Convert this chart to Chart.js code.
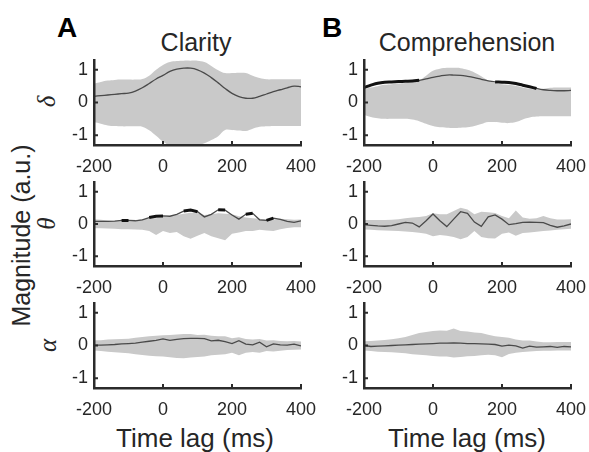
<!DOCTYPE html>
<html>
<head>
<meta charset="utf-8">
<script src="https://cdn.jsdelivr.net/npm/chart.js@4/dist/chart.umd.min.js"></script>
<style>
  body { margin: 0; background: #fff; }
  #fig { position: relative; width: 589px; height: 452px; overflow: hidden; font-family: 'Liberation Sans', Arial, sans-serif; color: #262626; }
  #fig canvas, .lbl { position: absolute; }
  .lbl { line-height: 1; white-space: nowrap; text-align: center; }
  .panel { font-weight: bold; font-size: 28px; color: #000; text-align: left; }
  .title { font-size: 25px; width: 240px; }
  .xlabel { font-size: 26px; width: 240px; }
  .ylabel { font-size: 25px; width: 300px; transform: rotate(-90deg); }
  .band { font-family: 'Liberation Serif', 'DejaVu Serif', serif; font-style: italic; font-size: 25px; width: 40px; transform: rotate(-90deg); }
</style>
</head>
<body>
<div id="fig">
  <div class="lbl panel" style="left:57px; top:14px">A</div>
  <div class="lbl panel" style="left:322px; top:14px">B</div>
  <div class="lbl title" style="left:76px; top:30px">Clarity</div>
  <div class="lbl title" style="left:347px; top:30px">Comprehension</div>
  <div class="lbl xlabel" style="left:75px; top:425px">Time lag (ms)</div>
  <div class="lbl xlabel" style="left:347px; top:425px">Time lag (ms)</div>
  <div class="lbl ylabel" style="left:-129px; top:223px">Magnitude (a.u.)</div>
  <div class="lbl band" style="left:26px; top:89px">δ</div>
  <div class="lbl band" style="left:26px; top:211px">θ</div>
  <div class="lbl band" style="left:27px; top:333px">α</div>
</div>
<script>
// time lags (ms), shared by all panels
const lags = [-200, -180, -160, -140, -120, -100, -80, -60, -40, -20, 0, 20, 40, 60, 80, 100,
  120, 140, 160, 180, 200, 220, 240, 260, 280, 300, 320, 340, 360, 380, 400]
const yTicks = [-1, 0, 1]

// delta, clarity
const deltaClarityMean = [0.19, 0.21, 0.23, 0.25, 0.27, 0.29, 0.35, 0.45, 0.58, 0.72, 0.83, 0.95, 1.02, 1.05, 1.05, 1.00,
  0.90, 0.76, 0.60, 0.43, 0.28, 0.18, 0.13, 0.13, 0.19, 0.26, 0.33, 0.39, 0.45, 0.50, 0.48]
const deltaClarityUpper = [0.58, 0.63, 0.67, 0.69, 0.70, 0.70, 0.70, 0.72, 0.82, 1.00, 1.15, 1.24, 1.27, 1.28, 1.28, 1.28,
  1.24, 1.12, 0.99, 0.90, 0.90, 0.91, 0.90, 0.82, 0.75, 0.71, 0.71, 0.71, 0.71, 0.71, 0.71]
const deltaClarityLower = [-0.60, -0.65, -0.70, -0.72, -0.73, -0.73, -0.73, -0.74, -0.85, -1.02, -1.20, -1.30, -1.31, -1.31, -1.31, -1.31,
  -1.25, -1.15, -1.03, -0.84, -0.84, -0.86, -0.87, -0.80, -0.74, -0.73, -0.72, -0.72, -0.72, -0.72, -0.72]

// delta, comprehension
const deltaComprMean = [0.46, 0.53, 0.59, 0.62, 0.63, 0.64, 0.65, 0.66, 0.68, 0.72, 0.77, 0.81, 0.84, 0.84, 0.83, 0.80,
  0.76, 0.71, 0.66, 0.63, 0.62, 0.61, 0.58, 0.53, 0.48, 0.43, 0.39, 0.37, 0.36, 0.36, 0.37]
const deltaComprUpper = [0.42, 0.46, 0.50, 0.54, 0.56, 0.58, 0.60, 0.63, 0.68, 0.82, 0.97, 1.03, 1.06, 1.06, 1.05, 1.00,
  0.92, 0.80, 0.67, 0.59, 0.56, 0.54, 0.51, 0.46, 0.42, 0.40, 0.42, 0.45, 0.46, 0.46, 0.46]
const deltaComprLower = [-0.38, -0.44, -0.48, -0.50, -0.50, -0.50, -0.50, -0.52, -0.57, -0.65, -0.72, -0.76, -0.77, -0.78, -0.77, -0.76,
  -0.72, -0.66, -0.60, -0.60, -0.62, -0.63, -0.60, -0.52, -0.46, -0.43, -0.42, -0.42, -0.42, -0.42, -0.42]
const deltaComprSig = [[-200, -40], [180, 300]]

// theta, clarity
const thetaClarityMean = [0.08, 0.08, 0.08, 0.09, 0.11, 0.11, 0.10, 0.13, 0.20, 0.24, 0.25, 0.24, 0.30, 0.40, 0.43, 0.38,
  0.22, 0.30, 0.44, 0.43, 0.28, 0.15, 0.30, 0.33, 0.13, 0.11, 0.18, 0.14, 0.08, 0.05, 0.10]
const thetaClarityUpper = [0.15, 0.13, 0.11, 0.10, 0.09, 0.09, 0.12, 0.15, 0.17, 0.18, 0.22, 0.25, 0.28, 0.32, 0.35, 0.33,
  0.28, 0.30, 0.33, 0.32, 0.30, 0.24, 0.20, 0.18, 0.16, 0.13, 0.14, 0.16, 0.15, 0.13, 0.14]
const thetaClarityLower = [-0.13, -0.13, -0.14, -0.15, -0.16, -0.16, -0.17, -0.18, -0.22, -0.34, -0.22, -0.28, -0.25, -0.38, -0.46, -0.36,
  -0.28, -0.38, -0.44, -0.50, -0.30, -0.26, -0.22, -0.22, -0.18, -0.20, -0.22, -0.16, -0.12, -0.10, -0.10]
const thetaClaritySig = [[-120, -100], [-40, 0], [60, 100], [160, 180], [240, 260], [300, 320]]

// theta, comprehension
const thetaComprMean = [-0.02, -0.04, -0.06, -0.07, -0.05, 0.00, 0.05, 0.03, -0.09, 0.10, 0.31, 0.10, -0.08, 0.15, 0.38, 0.33,
  0.06, -0.07, 0.22, 0.28, 0.15, -0.02, 0.01, 0.05, 0.06, 0.05, 0.04, -0.04, -0.10, -0.06, 0.00]
const thetaComprUpper = [0.12, 0.12, 0.12, 0.12, 0.13, 0.15, 0.18, 0.20, 0.22, 0.25, 0.33, 0.30, 0.30, 0.40, 0.50, 0.45,
  0.30, 0.38, 0.36, 0.34, 0.25, 0.18, 0.42, 0.20, 0.16, 0.18, 0.25, 0.18, 0.14, 0.14, 0.15]
const thetaComprLower = [-0.17, -0.18, -0.19, -0.20, -0.21, -0.22, -0.23, -0.25, -0.27, -0.30, -0.38, -0.34, -0.36, -0.40, -0.47, -0.40,
  -0.22, -0.40, -0.44, -0.45, -0.30, -0.26, -0.36, -0.28, -0.26, -0.24, -0.22, -0.20, -0.18, -0.16, -0.15]

// alpha, clarity
const alphaClarityMean = [0.01, 0.01, 0.02, 0.03, 0.05, 0.06, 0.07, 0.10, 0.13, 0.16, 0.20, 0.16, 0.19, 0.21, 0.22, 0.22,
  0.21, 0.14, 0.16, 0.12, 0.06, 0.15, 0.04, 0.02, 0.10, -0.04, 0.05, 0.02, 0.01, 0.04, -0.01]
const alphaClarityUpper = [0.16, 0.16, 0.18, 0.19, 0.20, 0.21, 0.24, 0.26, 0.28, 0.30, 0.31, 0.32, 0.34, 0.35, 0.35, 0.32,
  0.33, 0.30, 0.28, 0.28, 0.22, 0.25, 0.20, 0.18, 0.20, 0.15, 0.16, 0.14, 0.13, 0.14, 0.12]
const alphaClarityLower = [-0.15, -0.17, -0.19, -0.21, -0.22, -0.24, -0.27, -0.29, -0.31, -0.33, -0.34, -0.36, -0.38, -0.39, -0.37, -0.35,
  -0.34, -0.30, -0.28, -0.27, -0.22, -0.30, -0.22, -0.20, -0.22, -0.17, -0.18, -0.16, -0.14, -0.13, -0.12]

// alpha, comprehension
const alphaComprMean = [0.00, -0.03, -0.02, -0.01, 0.00, 0.01, 0.02, 0.03, 0.04, 0.05, 0.06, 0.07, 0.07, 0.08, 0.07, 0.06,
  0.06, 0.05, 0.04, 0.03, -0.02, 0.01, -0.01, -0.08, -0.02, -0.05, -0.04, -0.03, -0.06, -0.03, -0.04]
const alphaComprUpper = [0.13, 0.14, 0.15, 0.17, 0.19, 0.22, 0.26, 0.32, 0.38, 0.41, 0.44, 0.46, 0.45, 0.52, 0.44, 0.43,
  0.40, 0.38, 0.33, 0.28, 0.26, 0.24, 0.18, 0.15, 0.15, 0.12, 0.10, 0.10, 0.11, 0.11, 0.11]
const alphaComprLower = [-0.15, -0.17, -0.19, -0.20, -0.21, -0.22, -0.24, -0.27, -0.28, -0.30, -0.32, -0.34, -0.34, -0.37, -0.35, -0.33,
  -0.32, -0.30, -0.28, -0.30, -0.36, -0.26, -0.22, -0.20, -0.18, -0.17, -0.16, -0.16, -0.15, -0.15, -0.15]

const axisColor = '#2b2b2b'
const textColor = '#262626'
const bandColor = '#c9c9c9'
const tickFont = { family: "'Liberation Sans', Arial, sans-serif", size: 18 }

// plot-area boxes (left, right) per column and (top, bottom) per row
const cols = [[94, 301], [363.5, 570.5]]
const rows = [[60, 144.5], [181.5, 265.5], [303, 388]]
const AXW = 60, AXH = 36, PADT = 10, PADR = 25

const toXY = (vals) => vals.map((v, i) => ({ x: lags[i], y: v }))
const maskSig = (vals, ranges) =>
  vals.map((v, i) => ({ x: lags[i], y: ranges.some(([a, b]) => lags[i] >= a && lags[i] <= b) ? v : null }))

// MATLAB-style ticks pointing into the axes
const inwardTicks = {
  id: 'inwardTicks',
  afterDraw(chart) {
    const { ctx, chartArea: a, scales: { x, y } } = chart
    ctx.save()
    ctx.strokeStyle = axisColor
    ctx.lineWidth = 2
    ctx.beginPath()
    x.ticks.forEach((t) => {
      const px = x.getPixelForValue(t.value)
      ctx.moveTo(px, a.bottom)
      ctx.lineTo(px, a.bottom - 4)
    })
    y.ticks.forEach((t) => {
      const py = y.getPixelForValue(t.value)
      ctx.moveTo(a.left, py)
      ctx.lineTo(a.left + 4, py)
    })
    ctx.stroke()
    ctx.restore()
  },
}

function plotPanel(col, row, upper, lower, mean, sig, smooth) {
  const [l, r] = cols[col]
  const [t, b] = rows[row]
  const canvas = document.createElement('canvas')
  canvas.width = Math.round(r - l + AXW + PADR)
  canvas.height = Math.round(b - t + PADT + AXH)
  canvas.style.left = l - AXW + 'px'
  canvas.style.top = t - PADT + 'px'
  document.getElementById('fig').appendChild(canvas)
  const tension = smooth ? 0.4 : 0
  // higher order is drawn first: band at the back, mean on top, significant parts last
  const datasets = [
    { data: toXY(upper), fill: '+1', backgroundColor: bandColor, borderWidth: 0, pointRadius: 0, tension, order: 3 },
    { data: toXY(lower), fill: false, borderWidth: 0, pointRadius: 0, tension, order: 3 },
    { data: toXY(mean), borderColor: '#4a4a4a', borderWidth: 1.3, pointRadius: 0, tension, order: 2 },
  ]
  if (sig) {
    datasets.push({ data: maskSig(mean, sig), borderColor: '#111111', borderWidth: 3, pointRadius: 0, tension, order: 1 })
  }
  new Chart(canvas, {
    type: 'line',
    data: { datasets },
    options: {
      responsive: false,
      animation: false,
      events: [],
      layout: { padding: { left: 0, top: PADT, right: PADR, bottom: 0 } },
      plugins: { legend: { display: false }, tooltip: { enabled: false } },
      scales: {
        x: {
          type: 'linear',
          min: -200,
          max: 400,
          grid: { display: false, drawTicks: false },
          border: { color: axisColor, width: 2.5, z: 1 },
          ticks: { stepSize: 200, font: tickFont, color: textColor, padding: 11, maxRotation: 0 },
          afterFit: (s) => { s.height = AXH; s.paddingLeft = 0; s.paddingRight = 0 },
        },
        y: {
          min: -1.3,
          max: 1.3,
          grid: { display: false, drawTicks: false },
          border: { color: axisColor, width: 2.5, z: 1 },
          afterBuildTicks: (s) => { s.ticks = yTicks.map((v) => ({ value: v })) },
          ticks: { font: tickFont, color: textColor, padding: 6 },
          afterFit: (s) => { s.width = AXW; s.paddingTop = 0; s.paddingBottom = 0 },
        },
      },
    },
    plugins: [inwardTicks],
  })
}

plotPanel(0, 0, deltaClarityUpper, deltaClarityLower, deltaClarityMean, null, true)
plotPanel(1, 0, deltaComprUpper, deltaComprLower, deltaComprMean, deltaComprSig, true)
plotPanel(0, 1, thetaClarityUpper, thetaClarityLower, thetaClarityMean, thetaClaritySig, false)
plotPanel(1, 1, thetaComprUpper, thetaComprLower, thetaComprMean, null, false)
plotPanel(0, 2, alphaClarityUpper, alphaClarityLower, alphaClarityMean, null, false)
plotPanel(1, 2, alphaComprUpper, alphaComprLower, alphaComprMean, null, false)
</script>
</body>
</html>
